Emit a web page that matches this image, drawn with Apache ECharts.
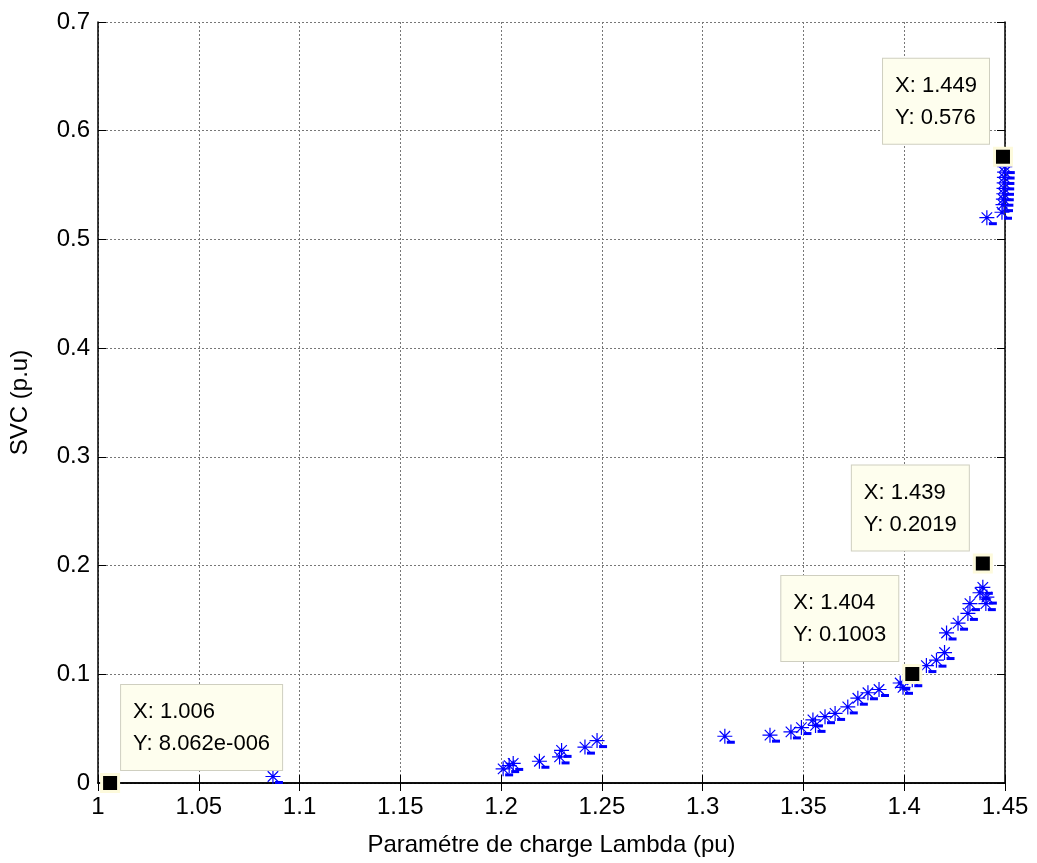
<!DOCTYPE html>
<html style="height: 100%">
<head>
    <meta charset="utf-8">
</head>
<body style="height: 100%; margin: 0; background: #fff">
    <div id="container" style="width: 1037px; height: 863px;"></div>
    <script type="text/javascript" src="https://cdn.jsdelivr.net/npm/echarts@6/dist/echarts.min.js"></script>
    <script type="text/javascript">
        // load parameter vs SVC output
        var lambda = [1.0868, 1.2010, 1.2040, 1.2060, 1.2190, 1.2290, 1.2300, 1.2416, 1.2476,
            1.3110, 1.3334, 1.3438, 1.3490, 1.3547, 1.3560, 1.3607, 1.3657, 1.3720, 1.3770,
            1.3820, 1.3875, 1.3980, 1.3994, 1.4040, 1.4110, 1.4160, 1.4200, 1.4210, 1.4267,
            1.4316, 1.4326, 1.4376, 1.4390, 1.4405, 1.4410, 1.4410, 1.4485, 1.4490, 1.4492,
            1.4494, 1.4495, 1.4496, 1.4497, 1.4498, 1.4499];
        var svc = [0.006, 0.013, 0.016, 0.018, 0.020, 0.024, 0.030, 0.033, 0.039,
            0.043, 0.044, 0.047, 0.051, 0.058, 0.053, 0.061, 0.064, 0.070, 0.078,
            0.083, 0.086, 0.092, 0.088, 0.095, 0.108, 0.113, 0.120, 0.138, 0.147,
            0.156, 0.165, 0.175, 0.180, 0.165, 0.171, 0.520, 0.525, 0.532, 0.537,
            0.542, 0.547, 0.552, 0.557, 0.562, 0.567];

        // data tips
        var tipX = [1.006, 1.404, 1.439, 1.449];
        var tipY = [0.000008062, 0.1003, 0.2019, 0.576];
        var tipXText = ['1.006', '1.404', '1.439', '1.449'];
        var tipYText = ['8.062e-006', '0.1003', '0.2019', '0.576'];

        var xTicks = ['1', '1.05', '1.1', '1.15', '1.2', '1.25', '1.3', '1.35', '1.4', '1.45'];
        var yTicks = ['0', '0.1', '0.2', '0.3', '0.4', '0.5', '0.6', '0.7'];

        var dom = document.getElementById("container");
        var myChart = echarts.init(dom);
        var font = 'Liberation Sans, Arial, sans-serif';

        var pts = [];
        for (var i = 0; i < lambda.length; i++) {
            pts.push([lambda[i], svc[i]]);
        }
        var tips = [];
        for (var j = 0; j < tipX.length; j++) {
            tips.push({
                value: [tipX[j], tipY[j]],
                label: j === 0
                    ? { position: [21, -3], align: 'left', verticalAlign: 'bottom' }
                    : { position: [-4, -3], align: 'right', verticalAlign: 'bottom' }
            });
        }

        var star = 'path://M0,-10L0,10M-10,0L10,0M-7,-7L7,7M-7,7L7,-7';

        var option = {
            animation: false,
            grid: { left: 98, right: 32, top: 22, bottom: 80 },
            xAxis: [
                {
                    type: 'value', min: 1, max: 1.45, interval: 0.05,
                    name: 'Paramétre de charge Lambda (pu)',
                    nameLocation: 'middle', nameGap: 50,
                    nameTextStyle: { fontSize: 24, fontFamily: font, color: '#000' },
                    axisLine: { lineStyle: { color: '#000', width: 1.5 } },
                    axisTick: { inside: true, length: 8, lineStyle: { color: '#000' } },
                    axisLabel: {
                        fontSize: 24, fontFamily: font, color: '#000', margin: 12,
                        formatter: function (v) { return xTicks[Math.round((v - 1) / 0.05)]; }
                    },
                    splitLine: { show: true, lineStyle: { color: '#777', type: [2, 2], width: 1 } }
                },
                {
                    type: 'value', min: 1, max: 1.45, interval: 0.05, position: 'top',
                    axisLine: { lineStyle: { color: '#000', width: 1.5 } },
                    axisTick: { inside: true, length: 8, lineStyle: { color: '#000' } },
                    axisLabel: { show: false },
                    splitLine: { show: false }
                }
            ],
            yAxis: [
                {
                    type: 'value', min: 0, max: 0.7, interval: 0.1,
                    name: 'SVC (p.u)',
                    nameLocation: 'middle', nameGap: 66,
                    nameTextStyle: { fontSize: 24, fontFamily: font, color: '#000' },
                    axisLine: { show: true, lineStyle: { color: '#000', width: 1.5 } },
                    axisTick: { show: true, inside: true, length: 8, lineStyle: { color: '#000' } },
                    axisLabel: {
                        fontSize: 24, fontFamily: font, color: '#000', margin: 8,
                        formatter: function (v) { return yTicks[Math.round(v / 0.1)]; }
                    },
                    splitLine: { show: true, lineStyle: { color: '#777', type: [2, 2], width: 1 } }
                },
                {
                    type: 'value', min: 0, max: 0.7, interval: 0.1, position: 'right',
                    axisLine: { show: true, lineStyle: { color: '#000', width: 1.5 } },
                    axisTick: { show: true, inside: true, length: 8, lineStyle: { color: '#000' } },
                    axisLabel: { show: false },
                    splitLine: { show: false }
                }
            ],
            series: [
                {
                    name: 'svc-star',
                    type: 'scatter',
                    data: pts,
                    symbol: star,
                    symbolSize: 15,
                    itemStyle: { color: 'rgba(0,0,0,0)', borderColor: '#0000ff', borderWidth: 1.2, opacity: 1 }
                },
                {
                    name: 'svc-dash',
                    type: 'scatter',
                    data: pts,
                    symbol: 'rect',
                    symbolSize: [8, 3],
                    symbolOffset: [6, 6],
                    itemStyle: { color: '#0000ff', opacity: 1 }
                },
                {
                    name: 'tips',
                    type: 'scatter',
                    data: tips,
                    symbol: 'rect',
                    symbolSize: 17,
                    z: 10,
                    itemStyle: { color: '#000', borderColor: '#fdfadc', borderWidth: 3, opacity: 1 },
                    label: {
                        show: true,
                        formatter: function (p) {
                            return '{t|X: ' + tipXText[p.dataIndex] + '}\n{t|Y: ' + tipYText[p.dataIndex] + '}';
                        },
                        backgroundColor: '#fefeee',
                        borderColor: '#cfcfc0', borderWidth: 1,
                        padding: [11, 12, 10, 12],
                        rich: {
                            t: { fontSize: 22, fontFamily: font, color: '#000', lineHeight: 32, align: 'left' }
                        }
                    }
                }
            ]
        };
        myChart.setOption(option, true);
    </script>
</body>
</html>
